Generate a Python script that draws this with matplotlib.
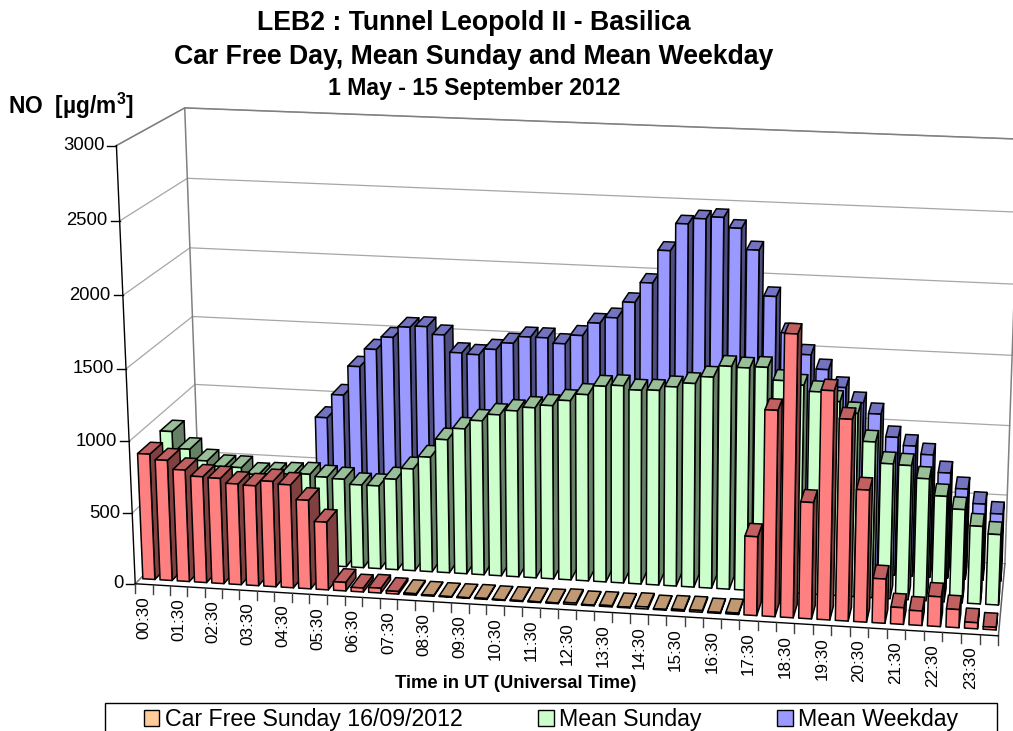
import numpy as np
import matplotlib
matplotlib.use('Agg')
import matplotlib.pyplot as plt
from matplotlib.collections import PolyCollection
from matplotlib.patches import Patch, Rectangle

plt.rcParams['font.family'] = ['Liberation Sans', 'DejaVu Sans']
plt.rcParams['mathtext.fontset'] = 'custom'
plt.rcParams['mathtext.bf'] = 'Liberation Sans:bold'

# NO concentration per half hour, 00:30 to 24:00
time_labels = ['00:30', '01:30', '02:30', '03:30', '04:30', '05:30', '06:30', '07:30',
               '08:30', '09:30', '10:30', '11:30', '12:30', '13:30', '14:30', '15:30',
               '16:30', '17:30', '18:30', '19:30', '20:30', '21:30', '22:30', '23:30']

car_free = [885, 848, 787, 747, 742, 710, 704, 741, 724, 623, 477, 60, 28, 34,
            18, 10, 6, 4, 4, 6, 4, 5, 5, 5, 12, 5, 8, 5, 14, 5, 10, 12, 6, 10,
            545, 1410, 1925, 800, 1560, 1375, 905, 305, 115, 100, 205, 125, 42, 18]
mean_sunday = [903, 783, 706, 671, 671, 628, 636, 643, 650, 636, 628, 594, 594, 648, 728, 818,
               948, 1031, 1094, 1142, 1176, 1204, 1225, 1266, 1314, 1378, 1388, 1363, 1368, 1398, 1428, 1478,
               1558, 1553, 1563, 1478, 1453, 1413, 1353, 1278, 1088, 943, 938, 853, 738, 653, 543, 493]
mean_weekday = [450, 380, 320, 280, 270, 290, 350, 450, 915, 1085, 1296, 1425, 1517, 1595, 1605, 1552,
                1430, 1423, 1466, 1516, 1566, 1566, 1530, 1594, 1687, 1730, 1844, 1985, 2215, 2405, 2445, 2460,
                2390, 2245, 1930, 1680, 1535, 1437, 1317, 1216, 1143, 985, 930, 874, 752, 645, 545, 481]
value_ticks = [0, 500, 1000, 1500, 2000, 2500, 3000]

# colours: front, side, top
orange = ('#FFCC99', '#806650', '#C09973')
red = ('#FF8080', '#804040', '#C06060')
green = ('#CCFFCC', '#668066', '#99BF99')
blue = ('#9999FF', '#4D4D80', '#7373BF')

# fit a camera to the corners of the chart box (time slot, depth slot, value -> pixel)
box = [(0, 0, 0, 135, 584), (0, 0, 1000, 130, 441), (0, 0, 2000, 122, 294), (0, 0, 3000, 117, 146),
       (0, 3, 0, 200, 518), (0, 3, 1000, 195, 385), (0, 3, 2000, 190, 248), (0, 3, 3000, 184, 108),
       (48, 0, 0, 998, 637), (48, 3, 0, 1005, 563), (48, 3, 1500, 1012, 354), (48, 3, 3000, 1020, 140)]
rows, rhs = [], []
for t, d, v, px, py in box:
    w = [t / 48, d / 3, v / 3000, 1]
    rows.append(w + [0, 0, 0, 0] + [-px * c for c in w[:3]])
    rows.append([0, 0, 0, 0] + w + [-py * c for c in w[:3]])
    rhs += [px, py]
cam = np.append(np.linalg.lstsq(np.array(rows, float), np.array(rhs, float), rcond=None)[0], 1).reshape(3, 4)


def project(t, d, v):
    p = cam @ np.array([t / 48, d / 3, v / 3000, 1])
    return p[0] / p[2], p[1] / p[2]


def bar_faces(i, slot, v):
    x0, x1 = i + 0.15, i + 0.85
    d0, d1 = slot + 0.22, slot + 0.78
    front = [project(x0, d0, 0), project(x1, d0, 0), project(x1, d0, v), project(x0, d0, v)]
    side = [project(x1, d0, 0), project(x1, d1, 0), project(x1, d1, v), project(x1, d0, v)]
    top = [project(x0, d0, v), project(x1, d0, v), project(x1, d1, v), project(x0, d1, v)]
    return front, side, top


fig = plt.figure(figsize=(10.13, 7.31), dpi=100)
ax = fig.add_axes([0, 0, 1, 1])
ax.set_xlim(0, 1013)
ax.set_ylim(731, 0)
ax.axis('off')

# walls and gridlines
for v in value_ticks:
    pts = [project(0, 0, v), project(0, 3, v), project(48, 3, v)]
    ax.plot(*zip(*pts), color='#a6a6a6', lw=0.9, zorder=1)
for t in (0, 48):
    ax.plot(*zip(project(t, 3, 0), project(t, 3, 3000)), color='#808080', lw=1.1, zorder=1)
ax.plot(*zip(project(0, 0, 3000), project(0, 3, 3000), project(48, 3, 3000)), color='#808080', lw=1.1, zorder=1)
ax.plot(*zip(project(0, 0, 0), project(0, 3, 0)), color='#808080', lw=1.1, zorder=1)
ax.plot(*zip(project(48, 0, 0), project(48, 3, 0)), color='#606060', lw=1.1, zorder=1)

# bars, back row first, left to right
polys, faces = [], []
for slot, values in ((2, mean_weekday), (1, mean_sunday), (0, car_free)):
    for i, v in enumerate(values):
        if slot == 2:
            cols = blue
        elif slot == 1:
            cols = green
        else:
            cols = red if v > 15 else orange
        front, side, top = bar_faces(i, slot, v)
        polys += [side, top, front]
        faces += [cols[1], cols[2], cols[0]]
ax.add_collection(PolyCollection(polys, facecolors=faces, edgecolors='black', linewidths=1.1, zorder=2))

# value axis
ax.plot(*zip(project(0, 0, 0), project(0, 0, 3000)), color='black', lw=1, zorder=3)
for v in value_ticks:
    x, y = project(0, 0, v)
    ax.plot([x - 9, x], [y, y], color='black', lw=1, zorder=3)
    ax.text(x - 12, y, str(v), ha='right', va='center', fontsize=13.3)

# time axis
ax.plot(*zip(project(0, 0, 0), project(48, 0, 0)), color='black', lw=1, zorder=3)
for t in range(49):
    x, y = project(t, 0, 0)
    ax.plot([x, x], [y, y + 9], color='#404040', lw=1, zorder=3)
for k, lab in enumerate(time_labels):
    x, y = project(2 * k + 0.5, 0, 0)
    ax.text(x, y + 12, lab, rotation=90, ha='center', va='top', fontsize=12.3)

ax.text(474, 23, 'LEB2 : Tunnel Leopold II - Basilica', ha='center', va='center', fontsize=19.2, fontweight='bold')
ax.text(474, 57, 'Car Free Day, Mean Sunday and Mean Weekday', ha='center', va='center', fontsize=19.2, fontweight='bold')
ax.text(474, 88, '1 May - 15 September 2012', ha='center', va='center', fontsize=16.6, fontweight='bold')
ax.text(8, 106, 'NO  [µg/m$^{\\mathbf{3}}$]', ha='left', va='center', fontsize=16.4, fontweight='bold')
ax.text(516, 684, 'Time in UT (Universal Time)', ha='center', va='center', fontsize=13.2, fontweight='bold')

# legend frame runs off the bottom of the picture
ax.add_patch(Rectangle((105, 703), 892, 45, facecolor='white', edgecolor='black', lw=1, zorder=4))
handles = [Patch(facecolor=orange[0], edgecolor='black', label='Car Free Sunday 16/09/2012'),
           Patch(facecolor=green[0], edgecolor='black', label='Mean Sunday'),
           Patch(facecolor=blue[0], edgecolor='black', label='Mean Weekday')]
leg = ax.legend(handles=handles, ncol=3, loc='upper left', bbox_to_anchor=(144, 708), bbox_transform=ax.transData,
                borderaxespad=0, fontsize=16.7, frameon=False, columnspacing=3.25, borderpad=0,
                handlelength=0.66, handleheight=0.66, handletextpad=0.25)
leg.set_zorder(5)
for patch in leg.get_patches():
    patch.set_linewidth(1)

fig.savefig('out.png', dpi=100)
